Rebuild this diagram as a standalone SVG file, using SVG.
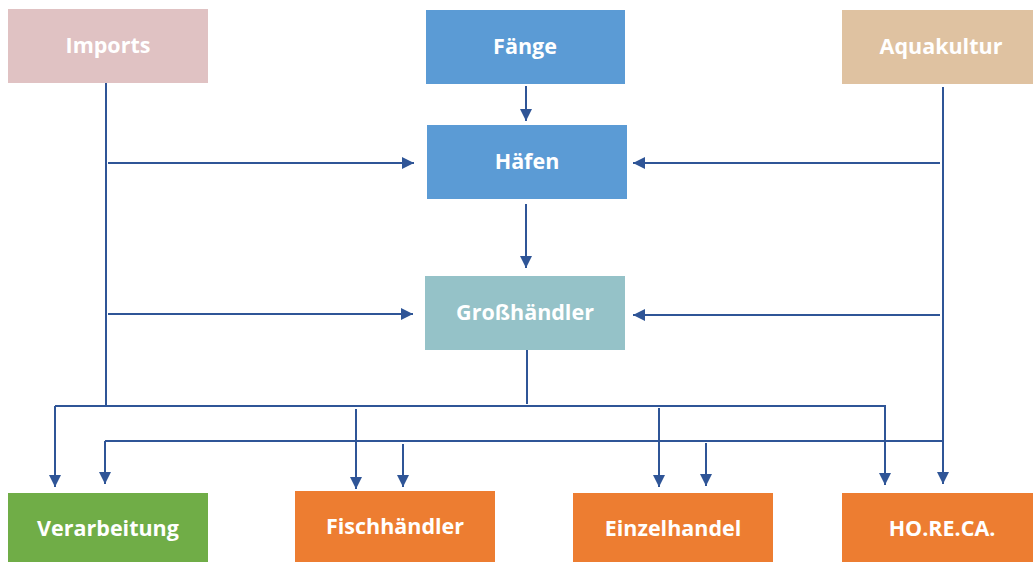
<svg xmlns="http://www.w3.org/2000/svg" width="1033" height="562" viewBox="0 0 1033 562">
<style>
.lbl{font-family:"Open Sans","Liberation Sans",sans-serif;font-weight:700;font-size:21.5px;fill:#ffffff;text-anchor:middle}
.c{stroke:#2f5597;stroke-width:2;fill:none}
.a{marker-end:url(#ah)}
</style>
<defs>
<marker id="ah" markerWidth="12" markerHeight="12" viewBox="0 0 12 12" refX="12" refY="6" orient="auto" markerUnits="userSpaceOnUse">
<path d="M0,0 L12,6 L0,12 Z" fill="#2f5597"/>
</marker>
</defs>
<rect width="1033" height="562" fill="#ffffff"/>
<g id="connectors">
<path class="c" d="M106,83 V406"/>
<path class="c a" d="M108,163 H414"/>
<path class="c a" d="M108,314 H413"/>
<path class="c a" d="M943,87 V484"/>
<path class="c a" d="M940,163 H633"/>
<path class="c a" d="M940,315 H633"/>
<path class="c a" d="M526,86 V121"/>
<path class="c a" d="M526,204 V268"/>
<path class="c" d="M527,350 V404"/>
<path class="c" d="M55,406 H886"/>
<path class="c a" d="M55,406 V487"/>
<path class="c a" d="M356,409 V489"/>
<path class="c a" d="M659,408 V487"/>
<path class="c a" d="M885,406 V485"/>
<path class="c" d="M105,441 H943"/>
<path class="c a" d="M105,441 V484"/>
<path class="c a" d="M403,444 V487"/>
<path class="c a" d="M706,443 V486"/>
</g>
<g id="imports"><rect x="8" y="9" width="200" height="74" fill="#e0c2c3"/><text class="lbl" x="108" y="53">Imports</text></g>
<g id="faenge"><rect x="426" y="10" width="199" height="74" fill="#5b9bd5"/><text class="lbl" x="525" y="54">Fänge</text></g>
<g id="aquakultur"><rect x="842" y="10" width="191" height="74" fill="#dfc2a1"/><text class="lbl" x="941" y="54">Aquakultur</text></g>
<g id="haefen"><rect x="427" y="125" width="200" height="74" fill="#5b9bd5"/><text class="lbl" x="527" y="169">Häfen</text></g>
<g id="grosshaendler"><rect x="425" y="276" width="200" height="74" fill="#95c2c8"/><text class="lbl" x="525" y="320">Großhändler</text></g>
<g id="verarbeitung"><rect x="8" y="493" width="200" height="69" fill="#70ad47"/><text class="lbl" x="108" y="536">Verarbeitung</text></g>
<g id="fischhaendler"><rect x="295" y="491" width="200" height="71" fill="#ed7d31"/><text class="lbl" x="395" y="534">Fischhändler</text></g>
<g id="einzelhandel"><rect x="573" y="493" width="200" height="69" fill="#ed7d31"/><text class="lbl" x="673" y="536">Einzelhandel</text></g>
<g id="horeca"><rect x="842" y="493" width="191" height="69" fill="#ed7d31"/><text class="lbl" x="942" y="536">HO.RE.CA.</text></g>
</svg>
